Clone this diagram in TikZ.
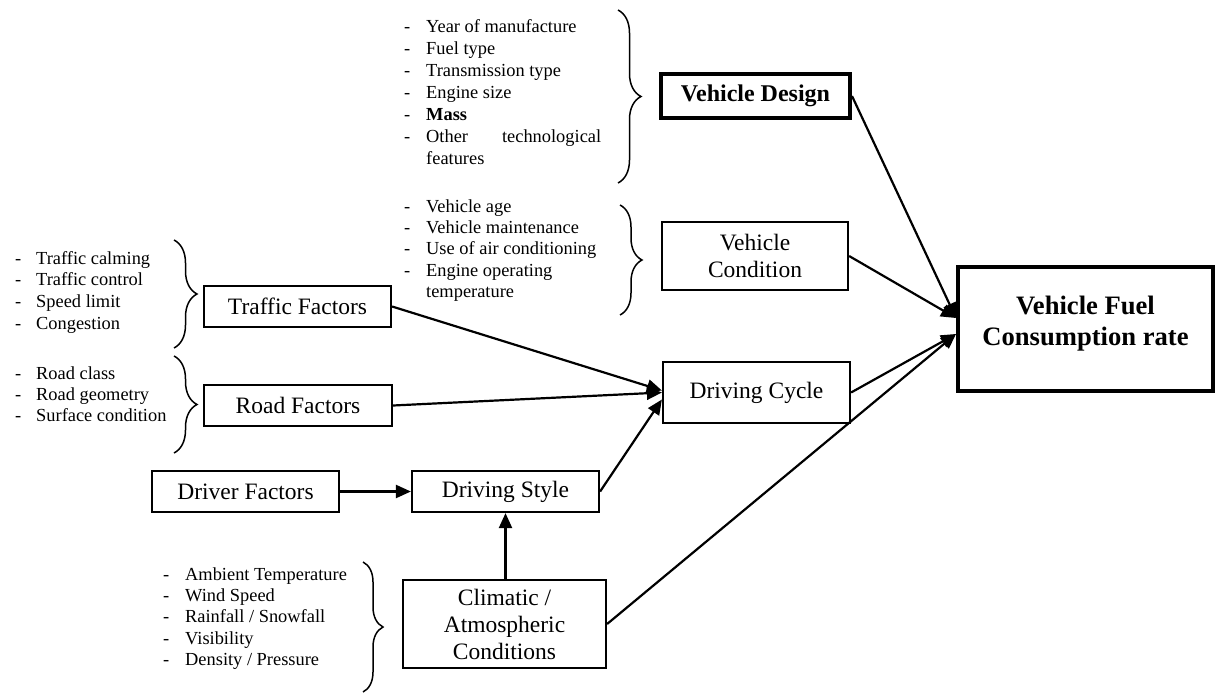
\documentclass[tikz,border=0pt]{standalone}
\usepackage{fontspec}
\setmainfont{Liberation Serif}
\usetikzlibrary{arrows.meta,decorations.pathreplacing}

\begin{document}
\begin{tikzpicture}[x=1pt,y=-1pt,
  box/.style={draw, line width=2.2pt, inner sep=0pt, align=center,
    font=\fontsize{23.5}{27}\selectfont},
  bigbox/.style={box, line width=4pt},
  link/.style={line width=2.2pt, -{Triangle[length=15pt,width=13pt]}},
  item/.style={anchor=mid west, inner sep=0pt, font=\fontsize{18.4}{21}\selectfont},
  curly/.style={decorate, decoration={brace, amplitude=#1}, line width=1.5pt},
]
\useasboundingbox (0,0) rectangle (1221,693);

% ---- boxes ----
\node[bigbox, minimum width=189pt, minimum height=44pt] (design) at (755.5,96)
  {\fontsize{24}{27}\selectfont\textbf{Vehicle Design}};
\node[box, minimum width=186pt, minimum height=68pt] (cond) at (755,256)
  {Vehicle\\Condition};
\node[bigbox, minimum width=255pt, minimum height=124pt] (fuel) at (1085.5,329) {};
\node[inner sep=0pt, align=center, font=\bfseries\fontsize{26.6}{31}\selectfont]
  (fueltext) at (1085.5,324) {Vehicle Fuel\\Consumption rate};
\node[box, minimum width=187pt, minimum height=41pt] (traffic) at (297.5,306.5)
  {Traffic Factors};
\node[box, minimum width=188pt, minimum height=41pt] (road) at (298,405.5)
  {Road Factors};
\node[box, minimum width=187pt, minimum height=61pt] (cycle) at (756.5,392.5)
  {Driving Cycle};
\node[box, minimum width=187pt, minimum height=41pt] (driver) at (245.5,491.5)
  {Driver Factors};
\node[box, minimum width=187pt, minimum height=41pt] (style) at (505.5,491.5)
  {Driving Style};
\node[box, minimum width=203pt, minimum height=88pt] (climate) at (504.5,624)
  {Climatic /\\Atmospheric\\Conditions};

% ---- factor lists ----
\foreach \t [count=\i] in {Year of manufacture, Fuel type, Transmission type,
    Engine size, \textbf{Mass}}
  \node[item] (designitem\i) at (404,{30+22*(\i-1)}) {\makebox[22pt][l]{-}\t};
\node[item] (designother) at (404,140)
  {\makebox[22pt][l]{-}\makebox[175pt][l]{Other\hfill technological}};
\node[item] (designfeat) at (426,162) {features};

\foreach \t [count=\i] in {Vehicle age, Vehicle maintenance,
    Use of air conditioning, Engine operating}
  \node[item] (conditem\i) at (404,{210+21.25*(\i-1)}) {\makebox[22pt][l]{-}\t};
\node[item] (condtemp) at (426,295) {temperature};

\foreach \t [count=\i] in {Traffic calming, Traffic control, Speed limit, Congestion}
  \node[item] (trafitem\i) at (15,{262+21.7*(\i-1)}) {\makebox[21pt][l]{-}\t};

\foreach \t [count=\i] in {Road class, Road geometry, Surface condition}
  \node[item] (roaditem\i) at (15,{377+21.3*(\i-1)}) {\makebox[21pt][l]{-}\t};

\foreach \t [count=\i] in {Ambient Temperature, Wind Speed, Rainfall / Snowfall,
    Visibility, Density / Pressure}
  \node[item] (climitem\i) at (163,{578+21.25*(\i-1)}) {\makebox[22pt][l]{-}\t};

% ---- braces ----
\draw[curly=23pt] (618,10) -- (618,183);
\draw[curly=22pt] (620,205) -- (620,315);
\draw[curly=23pt] (174,240) -- (174,348);
\draw[curly=23pt] (174,356) -- (174,453);
\draw[curly=20pt] (363,562) -- (363,692);

% ---- connectors ----
\coordinate (fin1) at ([yshift=11pt]fuel.west);
\coordinate (fin2) at ([yshift=-5pt]fuel.west);
\coordinate (cin1) at ([yshift=2pt]cycle.west);
\coordinate (cin2) at ([yshift=-7pt]cycle.west);
\coordinate (climtop) at (climate.north -| style.south);

\draw[link] (design.east) -- (fin1);
\draw[link] (cond.east) -- (fin1);
\draw[link] (cycle.east) -- (fin2);
\draw[link] (climate.east) -- (fin2);
\draw[link] (traffic.east) -- (cin1);
\draw[link] (road.east) -- (cycle.west);
\draw[link] (style.east) -- (cin2);
\draw[link] (driver) -- (style);
\draw[link] (climtop) -- (style.south);
\end{tikzpicture}
\end{document}
